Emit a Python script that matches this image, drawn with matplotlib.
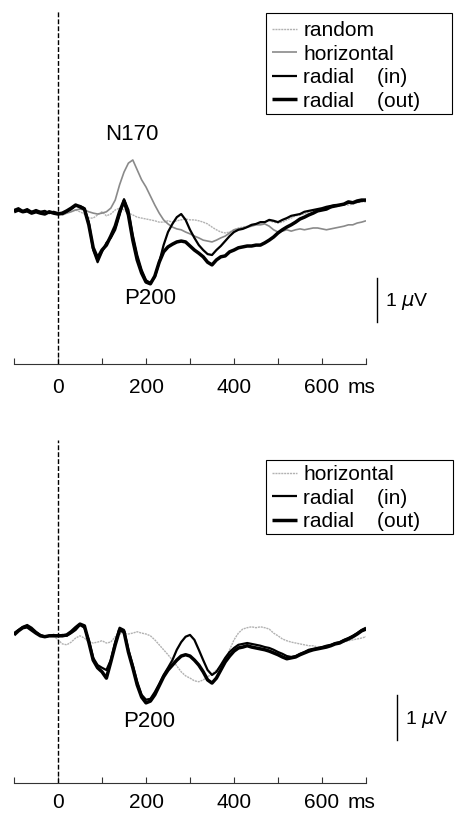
'''
Grand average ERPs to random, horizontal and radial motion at two sites.
'''

from matplotlib import pyplot as pl
from matplotlib.patches import Rectangle

pl.rcParams['font.family'] = ['Liberation Sans', 'DejaVu Sans']
pl.rcParams['font.size'] = 15

# Sample times of the averaged waveforms [ms]
time = list(range(-100, 701, 10))

# Upper panel waveforms [uV], negative drawn upwards
top_random = [
    0.02, 0, 0.04, 0, 0.02, 0.04, 0.02, 0.07, 0.04, 0.07,
    0.09, 0.07, 0.04, 0.02, 0, 0.04, 0.09, 0.18, 0.18, 0.11,
    0.04, 0.13, 0.09, 0, -0.04, 0, 0.07, 0.11, 0.16, 0.18,
    0.2, 0.22, 0.24, 0.27, 0.27, 0.24, 0.27, 0.24, 0.22, 0.2,
    0.22, 0.22, 0.24, 0.27, 0.31, 0.38, 0.44, 0.49, 0.51, 0.49,
    0.44, 0.4, 0.38, 0.36, 0.33, 0.31, 0.29, 0.27, 0.24, 0.27,
    0.29, 0.27, 0.22, 0.18, 0.13, 0.11, 0.09, 0.04, 0.02, 0,
    0, -0.02, -0.04, -0.07, -0.09, -0.11, -0.11, -0.13, -0.16, -0.18,
    -0.18]

top_horizontal = [
    0, -0.02, 0.02, 0, 0.04, 0.02, 0.04, 0.04, 0.07, 0.07,
    0.09, 0.11, 0.07, 0.04, 0, -0.02, 0, 0.04, 0.07, 0.09,
    0.07, 0.04, -0.04, -0.22, -0.56, -0.84, -1.04, -1.11, -0.89, -0.67,
    -0.51, -0.31, -0.11, 0.07, 0.22, 0.31, 0.38, 0.42, 0.44, 0.49,
    0.53, 0.58, 0.62, 0.67, 0.69, 0.71, 0.67, 0.62, 0.58, 0.51,
    0.44, 0.42, 0.4, 0.38, 0.36, 0.33, 0.33, 0.31, 0.36, 0.44,
    0.49, 0.47, 0.44, 0.47, 0.44, 0.42, 0.44, 0.42, 0.4, 0.4,
    0.42, 0.44, 0.42, 0.4, 0.38, 0.36, 0.33, 0.33, 0.29, 0.27,
    0.24]

top_radial_in = [
    0, -0.04, 0.02, -0.02, 0.04, 0, 0.04, 0.02, 0.07, 0.04,
    0.07, 0.09, 0.04, -0.02, -0.09, -0.09, -0.04, 0.27, 0.89, 1.16,
    0.93, 0.73, 0.62, 0.44, 0.11, -0.24, 0, 0.56, 1.0, 1.33,
    1.56, 1.62, 1.49, 1.16, 0.78, 0.49, 0.31, 0.16, 0.09, 0.22,
    0.44, 0.62, 0.78, 0.89, 0.98, 1.0, 0.89, 0.8, 0.69, 0.58,
    0.49, 0.44, 0.42, 0.38, 0.33, 0.31, 0.27, 0.27, 0.22, 0.24,
    0.27, 0.22, 0.18, 0.13, 0.11, 0.09, 0.04, 0.02, 0, -0.02,
    -0.04, -0.07, -0.09, -0.11, -0.11, -0.13, -0.16, -0.16, -0.18, -0.2,
    -0.22]

top_radial_out = [
    0.04, 0, 0.04, 0.02, 0.07, 0.04, 0.07, 0.09, 0.04, 0.07,
    0.09, 0.07, 0.02, -0.04, -0.11, -0.07, -0.02, 0.33, 0.84, 1.07,
    0.89, 0.78, 0.58, 0.36, 0.04, -0.2, 0.11, 0.67, 1.11, 1.4,
    1.6, 1.64, 1.47, 1.16, 0.93, 0.82, 0.76, 0.71, 0.69, 0.71,
    0.8, 0.89, 0.96, 1.04, 1.16, 1.22, 1.11, 1.04, 1.02, 0.93,
    0.89, 0.84, 0.82, 0.8, 0.8, 0.78, 0.78, 0.73, 0.67, 0.6,
    0.51, 0.44, 0.38, 0.33, 0.27, 0.2, 0.16, 0.11, 0.07, 0.02,
    0, -0.02, -0.07, -0.09, -0.11, -0.13, -0.18, -0.16, -0.2, -0.22,
    -0.22]

# Lower panel waveforms [uV]
bottom_horizontal = [
    -0.02, -0.09, -0.16, -0.18, -0.11, -0.04, 0, 0.02, 0.02, 0.02,
    0.11, 0.2, 0.22, 0.16, 0.07, 0.02, 0.07, 0.16, 0.18, 0.16,
    0.13, 0.18, 0.16, 0.04, -0.02, -0.04, -0.02, -0.04, -0.07, -0.04,
    -0.02, 0.02, 0.11, 0.22, 0.33, 0.44, 0.56, 0.69, 0.82, 0.91,
    0.96, 1.02, 1.04, 1.0, 0.93, 0.87, 0.78, 0.71, 0.56, 0.33,
    0.11, -0.04, -0.13, -0.16, -0.18, -0.16, -0.18, -0.16, -0.13, -0.04,
    0.02, 0.09, 0.13, 0.16, 0.18, 0.2, 0.22, 0.24, 0.24, 0.27,
    0.27, 0.24, 0.22, 0.2, 0.18, 0.16, 0.13, 0.11, 0.09, 0.07,
    0.04]

bottom_radial_in = [
    -0.04, -0.11, -0.18, -0.22, -0.16, -0.07, 0, 0.04, 0.02, 0,
    0.02, 0, 0.02, -0.04, -0.11, -0.22, -0.16, 0.11, 0.51, 0.67,
    0.73, 0.78, 0.56, 0.16, -0.16, -0.11, 0.33, 0.67, 1.04, 1.33,
    1.44, 1.42, 1.27, 1.09, 0.89, 0.73, 0.56, 0.33, 0.16, 0.04,
    0, 0.11, 0.33, 0.56, 0.78, 0.89, 0.82, 0.67, 0.51, 0.38,
    0.29, 0.22, 0.2, 0.18, 0.2, 0.22, 0.24, 0.27, 0.29, 0.33,
    0.38, 0.42, 0.47, 0.49, 0.47, 0.42, 0.38, 0.33, 0.31, 0.29,
    0.27, 0.24, 0.22, 0.18, 0.16, 0.11, 0.07, 0.02, -0.04, -0.11,
    -0.16]

bottom_radial_out = [
    0, -0.09, -0.16, -0.18, -0.11, -0.04, 0.02, 0.04, 0.02, 0.02,
    0.02, 0.02, 0, -0.07, -0.16, -0.24, -0.2, 0.16, 0.56, 0.73,
    0.82, 0.96, 0.6, 0.22, -0.11, -0.07, 0.38, 0.73, 1.11, 1.38,
    1.51, 1.47, 1.33, 1.13, 0.93, 0.78, 0.67, 0.56, 0.47, 0.44,
    0.47, 0.56, 0.67, 0.82, 1.0, 1.07, 0.96, 0.78, 0.6, 0.47,
    0.36, 0.29, 0.27, 0.24, 0.27, 0.29, 0.31, 0.33, 0.36, 0.4,
    0.44, 0.49, 0.53, 0.51, 0.49, 0.44, 0.4, 0.36, 0.33, 0.31,
    0.29, 0.27, 0.24, 0.2, 0.18, 0.13, 0.09, 0.04, -0.02, -0.09,
    -0.13]

# Condition names as printed in the legends
labels = ['random', 'horizontal', 'radial    (in)', 'radial    (out)']

# Line styles for the conditions
lightdot = dict(color='#b2b2b2', lw=1.0, ls=(0, (1.5, 0.6)))
grayline = dict(color='#8a8a8a', lw=1.2, ls='-')
blackin = dict(color='k', lw=1.6, ls='-')
blackout = dict(color='k', lw=2.5, ls='-')


def drawpanel(ax, traces, ylim, bar, peaks, pad):
    '''
    Draw one ERP panel.

    inputs:
            ax = axes to draw in
            traces = list of (values, label, style)
            ylim = (bottom, top) in uV, negative up
            bar = (time, low, high) of the 1 uV scale bar
            peaks = list of (time, amplitude, name) labels
            pad = tick label pad [pt]
    '''

    for values, label, style in traces:
        ax.plot(time, values, label=label, solid_capstyle='butt', **style)

    # Stimulus onset
    ax.axvline(0, color='k', lw=1.0, ls=(0, (3.5, 1.5)))

    ax.set_xlim(-100, 700)
    ax.set_ylim(*ylim)

    for side in ['top', 'left', 'right']:
        ax.spines[side].set_visible(False)
    ax.spines['bottom'].set_linewidth(0.8)
    ax.spines['bottom'].set_color('#333333')

    ax.set_yticks([])
    ax.set_xticks(range(-100, 701, 100))
    ax.set_xticklabels(['', '0', '', '200', '', '400', '', '600', ''])
    ax.tick_params(axis='x', direction='in', length=4, width=0.8,
                   color='#333333', pad=pad, labelsize=15)

    # Unit after the last tick label
    ax.annotate('ms', xy=(659, 0), xycoords=('data', 'axes fraction'),
                xytext=(0, -pad), textcoords='offset points',
                ha='left', va='top', fontsize=15, annotation_clip=False)

    # 1 uV scale bar
    ax.plot([bar[0], bar[0]], [bar[1], bar[2]], color='k', lw=1.0,
            clip_on=False)
    ax.text(bar[0] + 18, (bar[1] + bar[2]) / 2 + 0.04, '1 $\\mu$V',
            ha='left', va='center', fontsize=14)

    for t, amp, name in peaks:
        ax.text(t, amp, name, ha='center', va='center', fontsize=16)


def drawlegend(fig, ax, box, shift):
    '''
    Legend with a plain rectangular box, box = (left, top, right, bottom)
    in pixels from the upper left corner of the figure.
    '''

    w, h = 460, 816
    left, top, right, bottom = box

    ax.legend(
              loc='upper left',
              bbox_to_anchor=((left + 6) / w, 1 - (top + shift) / h),
              bbox_transform=fig.transFigure,
              frameon=False,
              borderpad=0,
              borderaxespad=0,
              handlelength=1.2,
              handletextpad=0.3,
              labelspacing=0.22,
              fontsize=15
              )

    fig.add_artist(Rectangle(
                             (left / w, 1 - bottom / h),
                             (right - left) / w,
                             (bottom - top) / h,
                             transform=fig.transFigure,
                             fill=False,
                             lw=0.8,
                             ec='k'
                             ))


fig = pl.figure(figsize=(4.6, 8.16), dpi=100)

ax1 = fig.add_axes([14 / 460, 1 - 364 / 816, 352 / 460, 354 / 816])
ax2 = fig.add_axes([14 / 460, 1 - 783 / 816, 352 / 460, 343 / 816])

drawpanel(
          ax1,
          [(top_random, labels[0], lightdot),
           (top_horizontal, labels[1], grayline),
           (top_radial_in, labels[2], blackin),
           (top_radial_out, labels[3], blackout)],
          (3.42, -4.44),
          (725, 1.51, 2.49),
          [(168, -1.67, 'N170'), (209, 1.96, 'P200')],
          10
          )

drawpanel(
          ax2,
          [(bottom_horizontal, labels[1], lightdot),
           (bottom_radial_in, labels[2], blackin),
           (bottom_radial_out, labels[3], blackout)],
          (3.29, -4.33),
          (770, 1.33, 2.33),
          [(207, 1.93, 'P200')],
          7
          )

drawlegend(fig, ax1, (266, 13, 452, 114), 8)
drawlegend(fig, ax2, (266, 460, 453, 534), 5)

fig.savefig('out.png', dpi=100)
pl.close('all')
